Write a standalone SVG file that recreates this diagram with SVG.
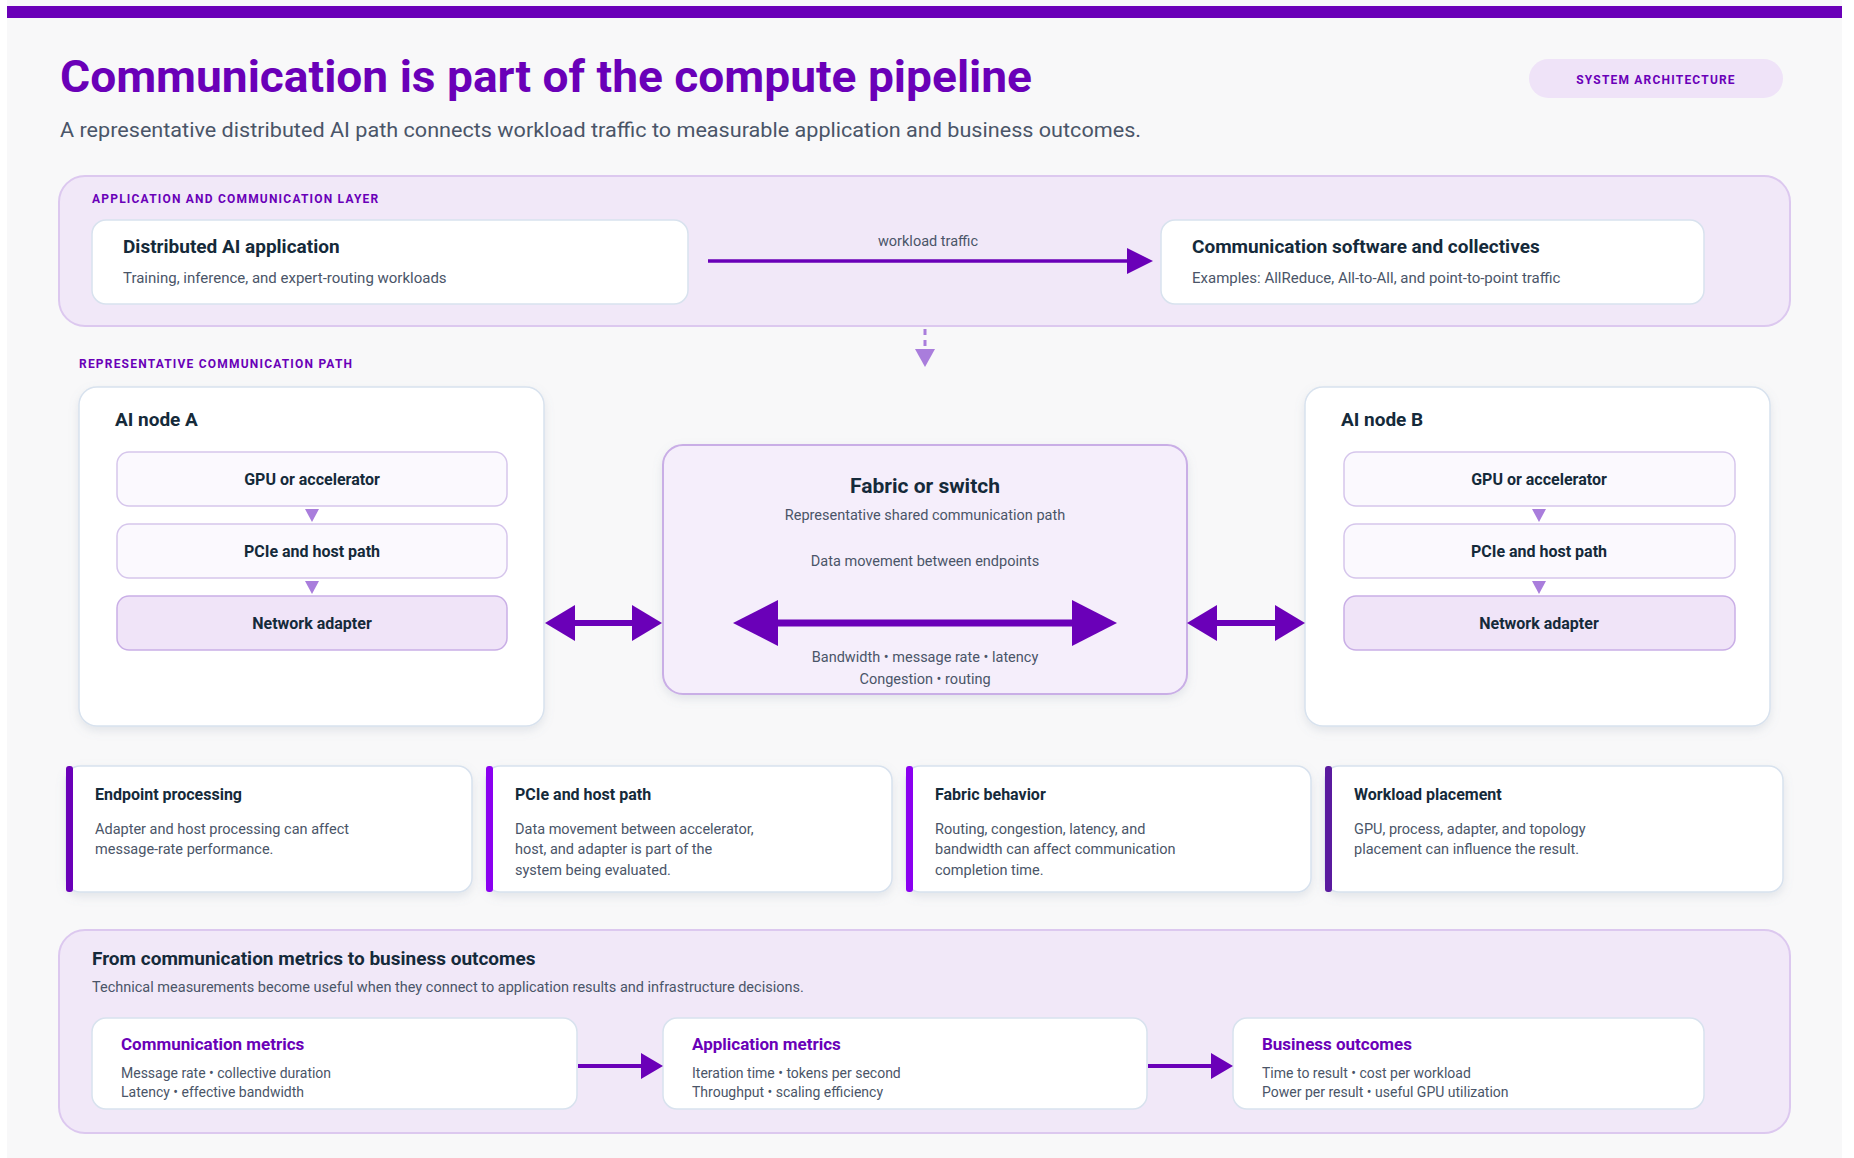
<svg xmlns="http://www.w3.org/2000/svg" width="1854" height="1158" viewBox="0 0 1854 1158">
<defs>
<style>
text{font-family:Roboto,"Liberation Sans",sans-serif}
.h{font-weight:bold;fill:#152a3a}
.s{fill:#4a5568}
.lab{font-weight:bold;fill:#6a00b8;font-size:12px;letter-spacing:1.2px}
.card{fill:#fff;stroke:#d8e2ee;stroke-width:1.5}
.inner{fill:#fbf9fe;stroke:#d6c6ec;stroke-width:1.5}
.inner2{fill:#f0e4f8;stroke:#c9aee6;stroke-width:1.5}
.panel{fill:#f1e8f8;stroke:#dcc8ef;stroke-width:2}
.ah{fill:#6a00b8}
.mid{text-anchor:middle}
</style>
<filter id="sh" x="-10%" y="-10%" width="120%" height="130%"><feDropShadow dx="0" dy="4" stdDeviation="5" flood-color="#7a8aa0" flood-opacity="0.18"/></filter>
</defs>
<rect width="1854" height="1158" fill="#fff"/>
<rect x="7" y="0" width="1835" height="1158" fill="#f8f8f9"/>
<rect x="7" y="6" width="1835" height="12" fill="#6a00b8"/>

<g id="header">
<text x="60" y="92" font-size="44" font-weight="bold" fill="#6a00b8" textLength="972" lengthAdjust="spacingAndGlyphs">Communication is part of the compute pipeline</text>
<text x="60" y="137" font-size="21" class="s" textLength="1081" lengthAdjust="spacingAndGlyphs">A representative distributed AI path connects workload traffic to measurable application and business outcomes.</text>
</g>
<g id="badge">
<rect x="1529" y="59" width="254" height="39" rx="19.5" fill="#efe3f8"/>
<text x="1656" y="84" class="lab mid" font-size="12">SYSTEM ARCHITECTURE</text>
</g>

<g id="app-layer">
<rect x="59" y="176" width="1731" height="150" rx="26" class="panel"/>
<text x="92" y="203" class="lab">APPLICATION AND COMMUNICATION LAYER</text>
</g>
<g id="dist-app">
<rect x="92" y="220" width="596" height="84" rx="14" class="card"/>
<text x="123" y="253" class="h" font-size="19">Distributed AI application</text>
<text x="123" y="283" class="s" font-size="15">Training, inference, and expert-routing workloads</text>
</g>
<g id="comm-sw">
<rect x="1161" y="220" width="543" height="84" rx="14" class="card"/>
<text x="1192" y="253" class="h" font-size="19">Communication software and collectives</text>
<text x="1192" y="283" class="s" font-size="15">Examples: AllReduce, All-to-All, and point-to-point traffic</text>
</g>

<text x="79" y="368" class="lab">REPRESENTATIVE COMMUNICATION PATH</text>

<g id="node-a">
<rect x="79" y="387" width="465" height="339" rx="18" class="card" filter="url(#sh)"/>
<text x="115" y="426" class="h" font-size="19">AI node A</text>
<rect x="117" y="452" width="390" height="54" rx="12" class="inner"/>
<text x="312" y="485" class="h mid" font-size="16">GPU or accelerator</text>
<rect x="117" y="524" width="390" height="54" rx="12" class="inner"/>
<text x="312" y="557" class="h mid" font-size="16">PCIe and host path</text>
<rect x="117" y="596" width="390" height="54" rx="12" class="inner2"/>
<text x="312" y="629" class="h mid" font-size="16">Network adapter</text>
</g>
<g id="node-b">
<rect x="1305" y="387" width="465" height="339" rx="18" class="card" filter="url(#sh)"/>
<text x="1341" y="426" class="h" font-size="19">AI node B</text>
<rect x="1344" y="452" width="391" height="54" rx="12" class="inner"/>
<text x="1539" y="485" class="h mid" font-size="16">GPU or accelerator</text>
<rect x="1344" y="524" width="391" height="54" rx="12" class="inner"/>
<text x="1539" y="557" class="h mid" font-size="16">PCIe and host path</text>
<rect x="1344" y="596" width="391" height="54" rx="12" class="inner2"/>
<text x="1539" y="629" class="h mid" font-size="16">Network adapter</text>
</g>
<g id="fabric">
<rect x="663" y="445" width="524" height="249" rx="20" fill="#f5eefb" stroke="#c9aee6" stroke-width="2" filter="url(#sh)"/>
<text x="925" y="493" class="h mid" font-size="21">Fabric or switch</text>
<text x="925" y="520" class="s mid" font-size="14.5">Representative shared communication path</text>
<text x="925" y="566" class="s mid" font-size="14.5">Data movement between endpoints</text>
<text x="925" y="662" class="s mid" font-size="14.5">Bandwidth • message rate • latency</text>
<text x="925" y="684" class="s mid" font-size="14.5">Congestion • routing</text>
</g>

<g id="card-endpoint">
<rect x="66" y="766" width="406" height="126" rx="14" class="card" filter="url(#sh)"/>
<rect x="66" y="766" width="7" height="126" rx="3" fill="#6a00b8"/>
<text x="95" y="800" class="h" font-size="16">Endpoint processing</text>
<text x="95" y="834" class="s" font-size="14.5">Adapter and host processing can affect</text>
<text x="95" y="854" class="s" font-size="14.5">message-rate performance.</text>
</g>
<g id="card-pcie">
<rect x="486" y="766" width="406" height="126" rx="14" class="card" filter="url(#sh)"/>
<rect x="486" y="766" width="7" height="126" rx="3" fill="#8a00f0"/>
<text x="515" y="800" class="h" font-size="16">PCIe and host path</text>
<text x="515" y="834" class="s" font-size="14.5">Data movement between accelerator,</text>
<text x="515" y="854" class="s" font-size="14.5">host, and adapter is part of the</text>
<text x="515" y="875" class="s" font-size="14.5">system being evaluated.</text>
</g>
<g id="card-fabric">
<rect x="906" y="766" width="405" height="126" rx="14" class="card" filter="url(#sh)"/>
<rect x="906" y="766" width="7" height="126" rx="3" fill="#8a00f0"/>
<text x="935" y="800" class="h" font-size="16">Fabric behavior</text>
<text x="935" y="834" class="s" font-size="14.5">Routing, congestion, latency, and</text>
<text x="935" y="854" class="s" font-size="14.5">bandwidth can affect communication</text>
<text x="935" y="875" class="s" font-size="14.5">completion time.</text>
</g>
<g id="card-placement">
<rect x="1325" y="766" width="458" height="126" rx="14" class="card" filter="url(#sh)"/>
<rect x="1325" y="766" width="7" height="126" rx="3" fill="#5a1a9e"/>
<text x="1354" y="800" class="h" font-size="16">Workload placement</text>
<text x="1354" y="834" class="s" font-size="14.5">GPU, process, adapter, and topology</text>
<text x="1354" y="854" class="s" font-size="14.5">placement can influence the result.</text>
</g>

<g id="outcomes">
<rect x="59" y="930" width="1731" height="203" rx="26" class="panel"/>
<text x="92" y="965" class="h" font-size="19">From communication metrics to business outcomes</text>
<text x="92" y="992" class="s" font-size="14.5">Technical measurements become useful when they connect to application results and infrastructure decisions.</text>
</g>
<g id="m-comm">
<rect x="92" y="1018" width="485" height="91" rx="14" class="card"/>
<text x="121" y="1050" font-size="17" font-weight="bold" fill="#6a00b8">Communication metrics</text>
<text x="121" y="1078" class="s" font-size="14">Message rate • collective duration</text>
<text x="121" y="1097" class="s" font-size="14">Latency • effective bandwidth</text>
</g>
<g id="m-app">
<rect x="663" y="1018" width="484" height="91" rx="14" class="card"/>
<text x="692" y="1050" font-size="17" font-weight="bold" fill="#6a00b8">Application metrics</text>
<text x="692" y="1078" class="s" font-size="14">Iteration time • tokens per second</text>
<text x="692" y="1097" class="s" font-size="14">Throughput • scaling efficiency</text>
</g>
<g id="m-biz">
<rect x="1233" y="1018" width="471" height="91" rx="14" class="card"/>
<text x="1262" y="1050" font-size="17" font-weight="bold" fill="#6a00b8">Business outcomes</text>
<text x="1262" y="1078" class="s" font-size="14">Time to result • cost per workload</text>
<text x="1262" y="1097" class="s" font-size="14">Power per result • useful GPU utilization</text>
</g>

<g id="connectors">
<line x1="708" y1="261" x2="1132" y2="261" stroke="#6a00b8" stroke-width="3.5"/>
<polygon points="1153,261 1127,248 1127,274" class="ah"/>
<text x="928" y="246" class="s mid" font-size="14.5">workload traffic</text>
<line x1="925" y1="329" x2="925" y2="350" stroke="#a97ddc" stroke-width="3" stroke-dasharray="6,5"/>
<polygon points="925,367 915,349 935,349" fill="#a97ddc"/>
<polygon points="312,522 305,509 319,509" fill="#a97ddc"/>
<polygon points="312,594 305,581 319,581" fill="#a97ddc"/>
<polygon points="1539,522 1532,509 1546,509" fill="#a97ddc"/>
<polygon points="1539,594 1532,581 1546,581" fill="#a97ddc"/>
<line x1="770" y1="623" x2="1080" y2="623" stroke="#6a00b8" stroke-width="7"/>
<polygon points="733,623 778,600 778,646" class="ah"/>
<polygon points="1117,623 1072,600 1072,646" class="ah"/>
<line x1="570" y1="623" x2="637" y2="623" stroke="#6a00b8" stroke-width="6"/>
<polygon points="545,623 575,605 575,641" class="ah"/>
<polygon points="662,623 632,605 632,641" class="ah"/>
<line x1="1212" y1="623" x2="1280" y2="623" stroke="#6a00b8" stroke-width="6"/>
<polygon points="1187,623 1217,605 1217,641" class="ah"/>
<polygon points="1305,623 1275,605 1275,641" class="ah"/>
<line x1="578" y1="1066" x2="645" y2="1066" stroke="#6a00b8" stroke-width="4"/>
<polygon points="663,1066 641,1053 641,1079" class="ah"/>
<line x1="1148" y1="1066" x2="1215" y2="1066" stroke="#6a00b8" stroke-width="4"/>
<polygon points="1233,1066 1211,1053 1211,1079" class="ah"/>
</g>
</svg>
